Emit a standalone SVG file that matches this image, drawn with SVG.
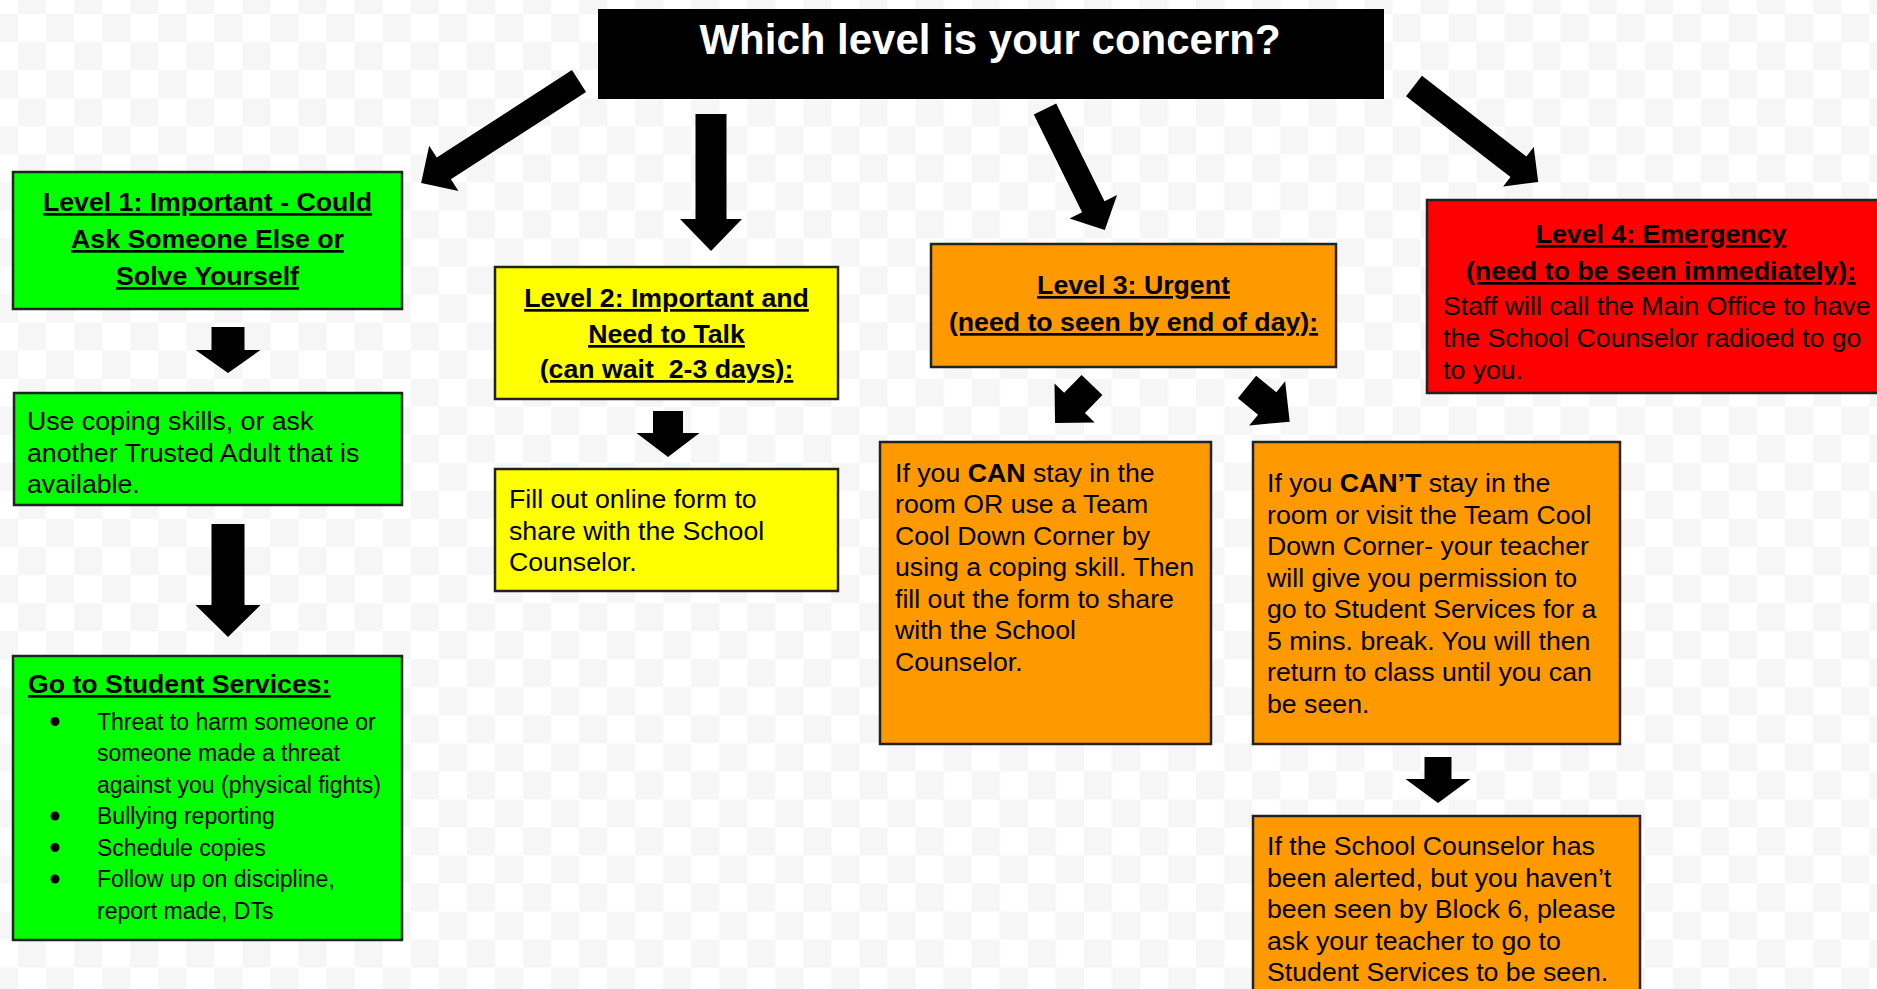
<svg xmlns="http://www.w3.org/2000/svg" width="1877" height="989" viewBox="0 0 1877 989">
<defs>
<pattern id="checker" patternUnits="userSpaceOnUse" x="18" y="14" width="56.1" height="56.1">
<rect width="56.1" height="56.1" fill="#ffffff"/>
<rect x="28.05" y="0" width="28.05" height="28.05" fill="#f6f6f6"/>
<rect x="0" y="28.05" width="28.05" height="28.05" fill="#f6f6f6"/>
</pattern>
</defs>
<style>
text{font-family:"Liberation Sans",Arial,Helvetica,sans-serif;fill:#000;}
.box{stroke:#222;stroke-width:2.5;}
.green{fill:#00ff00;}
.yellow{fill:#ffff00;}
.orange{fill:#ff9900;}
.red{fill:#ff0000;}
.title{font-size:42px;font-weight:bold;fill:#ffffff;text-anchor:middle;}
.head{font-size:26.7px;font-weight:bold;text-anchor:middle;text-decoration:underline;}
.headl{font-size:26.7px;font-weight:bold;text-decoration:underline;}
.body{font-size:26.7px;}
.list{font-size:23px;}
.arrow{fill:#000;}
</style>
<rect width="1877" height="989" fill="url(#checker)"/>

<g id="connectors">
<polygon class="arrow" transform="translate(579,81) rotate(147.1)" points="0,-13 161,-13 161,-27 188,0 161,27 161,13 0,13"/>
<polygon class="arrow" transform="translate(711,114) rotate(90)" points="0,-15.5 105,-15.5 105,-31 137,0 105,31 105,15.5 0,15.5"/>
<polygon class="arrow" transform="translate(1045,109) rotate(63.7)" points="0,-12.5 109,-12.5 109,-26.5 135,0 109,26.5 109,12.5 0,12.5"/>
<polygon class="arrow" transform="translate(1414,86) rotate(37.7)" points="0,-13 132,-13 132,-25 157,0 132,25 132,13 0,13"/>
<polygon class="arrow" transform="translate(228,327) rotate(90)" points="0,-16.5 23,-16.5 23,-32.5 46,0 23,32.5 23,16.5 0,16.5"/>
<polygon class="arrow" transform="translate(228,524) rotate(90)" points="0,-16.5 81,-16.5 81,-32.5 113,0 81,32.5 81,16.5 0,16.5"/>
<polygon class="arrow" transform="translate(668,411) rotate(90)" points="0,-15 22,-15 22,-31.5 46,0 22,31.5 22,15 0,15"/>
<polygon class="arrow" transform="translate(1092,385) rotate(134.2)" points="0,-14.5 25,-14.5 25,-28 53,0 25,28 25,14.5 0,14.5"/>
<polygon class="arrow" transform="translate(1247,387) rotate(39.1)" points="0,-14.5 26,-14.5 26,-28.5 55,0 26,28.5 26,14.5 0,14.5"/>
<polygon class="arrow" transform="translate(1438,757) rotate(90)" points="0,-13.5 22,-13.5 22,-32.5 46,0 22,32.5 22,13.5 0,13.5"/>
</g>

<g id="title">
<rect x="598" y="9" width="786" height="90" fill="#000"/>
<text class="title" x="990" y="54">Which level is your concern?</text>
</g>

<g id="level1">
<rect class="box green" x="13" y="172" width="389" height="137"/>
<text class="head" x="207.5" y="211">Level 1: Important - Could</text>
<text class="head" x="207.5" y="248">Ask Someone Else or</text>
<text class="head" x="207.5" y="285">Solve Yourself</text>
</g>

<g id="coping">
<rect class="box green" x="14" y="393" width="388" height="112"/>
<text class="body" x="27" y="430">Use coping skills, or ask</text>
<text class="body" x="27" y="461.5">another Trusted Adult that is</text>
<text class="body" x="27" y="493">available.</text>
</g>

<g id="student-services">
<rect class="box green" x="13" y="656" width="389" height="284"/>
<text class="headl" x="28" y="693">Go to Student Services:</text>
<circle cx="55" cy="721.5" r="4.5"/>
<text class="list" x="97" y="729.5">Threat to harm someone or</text>
<text class="list" x="97" y="761">someone made a threat</text>
<text class="list" x="97" y="792.5">against you (physical fights)</text>
<circle cx="55" cy="816" r="4.5"/>
<text class="list" x="97" y="824">Bullying reporting</text>
<circle cx="55" cy="847.5" r="4.5"/>
<text class="list" x="97" y="855.5">Schedule copies</text>
<circle cx="55" cy="879" r="4.5"/>
<text class="list" x="97" y="887">Follow up on discipline,</text>
<text class="list" x="97" y="918.5">report made, DTs</text>
</g>

<g id="level2">
<rect class="box yellow" x="495" y="267" width="343" height="132"/>
<text class="head" x="666.5" y="307">Level 2: Important and</text>
<text class="head" x="666.5" y="343">Need to Talk</text>
<text class="head" x="666.5" y="378">(can wait&#160; 2-3 days):</text>
</g>

<g id="online-form">
<rect class="box yellow" x="495" y="469" width="343" height="122"/>
<text class="body" x="509" y="508">Fill out online form to</text>
<text class="body" x="509" y="539.5">share with the School</text>
<text class="body" x="509" y="571">Counselor.</text>
</g>

<g id="level3">
<rect class="box orange" x="931" y="244" width="405" height="123"/>
<text class="head" x="1133.5" y="294">Level 3: Urgent</text>
<text class="head" x="1133.5" y="331">(need to seen by end of day):</text>
</g>

<g id="level4">
<rect class="box red" x="1427" y="200" width="468" height="193"/>
<text class="head" x="1661" y="243">Level 4: Emergency</text>
<text class="head" x="1661" y="280">(need to be seen immediately):</text>
<text class="body" x="1443" y="315">Staff will call the Main Office to have</text>
<text class="body" x="1443" y="347">the School Counselor radioed to go</text>
<text class="body" x="1443" y="379">to you.</text>
</g>

<g id="can-stay">
<rect class="box orange" x="880" y="442" width="331" height="302"/>
<text class="body" x="895" y="481.5">If you <tspan font-weight="bold">CAN</tspan> stay in the</text>
<text class="body" x="895" y="513">room OR use a Team</text>
<text class="body" x="895" y="544.5">Cool Down Corner by</text>
<text class="body" x="895" y="576">using a coping skill. Then</text>
<text class="body" x="895" y="607.5">fill out the form to share</text>
<text class="body" x="895" y="639">with the School</text>
<text class="body" x="895" y="670.5">Counselor.</text>
</g>

<g id="cant-stay">
<rect class="box orange" x="1253" y="442" width="367" height="302"/>
<text class="body" x="1267" y="492">If you <tspan font-weight="bold">CAN’T</tspan> stay in the</text>
<text class="body" x="1267" y="523.5">room or visit the Team Cool</text>
<text class="body" x="1267" y="555">Down Corner- your teacher</text>
<text class="body" x="1267" y="586.5">will give you permission to</text>
<text class="body" x="1267" y="618">go to Student Services for a</text>
<text class="body" x="1267" y="649.5">5 mins. break. You will then</text>
<text class="body" x="1267" y="681">return to class until you can</text>
<text class="body" x="1267" y="712.5">be seen.</text>
</g>

<g id="block6">
<rect class="box orange" x="1253" y="816" width="387" height="200"/>
<text class="body" x="1267" y="855">If the School Counselor has</text>
<text class="body" x="1267" y="886.5">been alerted, but you haven’t</text>
<text class="body" x="1267" y="918">been seen by Block 6, please</text>
<text class="body" x="1267" y="949.5">ask your teacher to go to</text>
<text class="body" x="1267" y="981">Student Services to be seen.</text>
</g>
</svg>
